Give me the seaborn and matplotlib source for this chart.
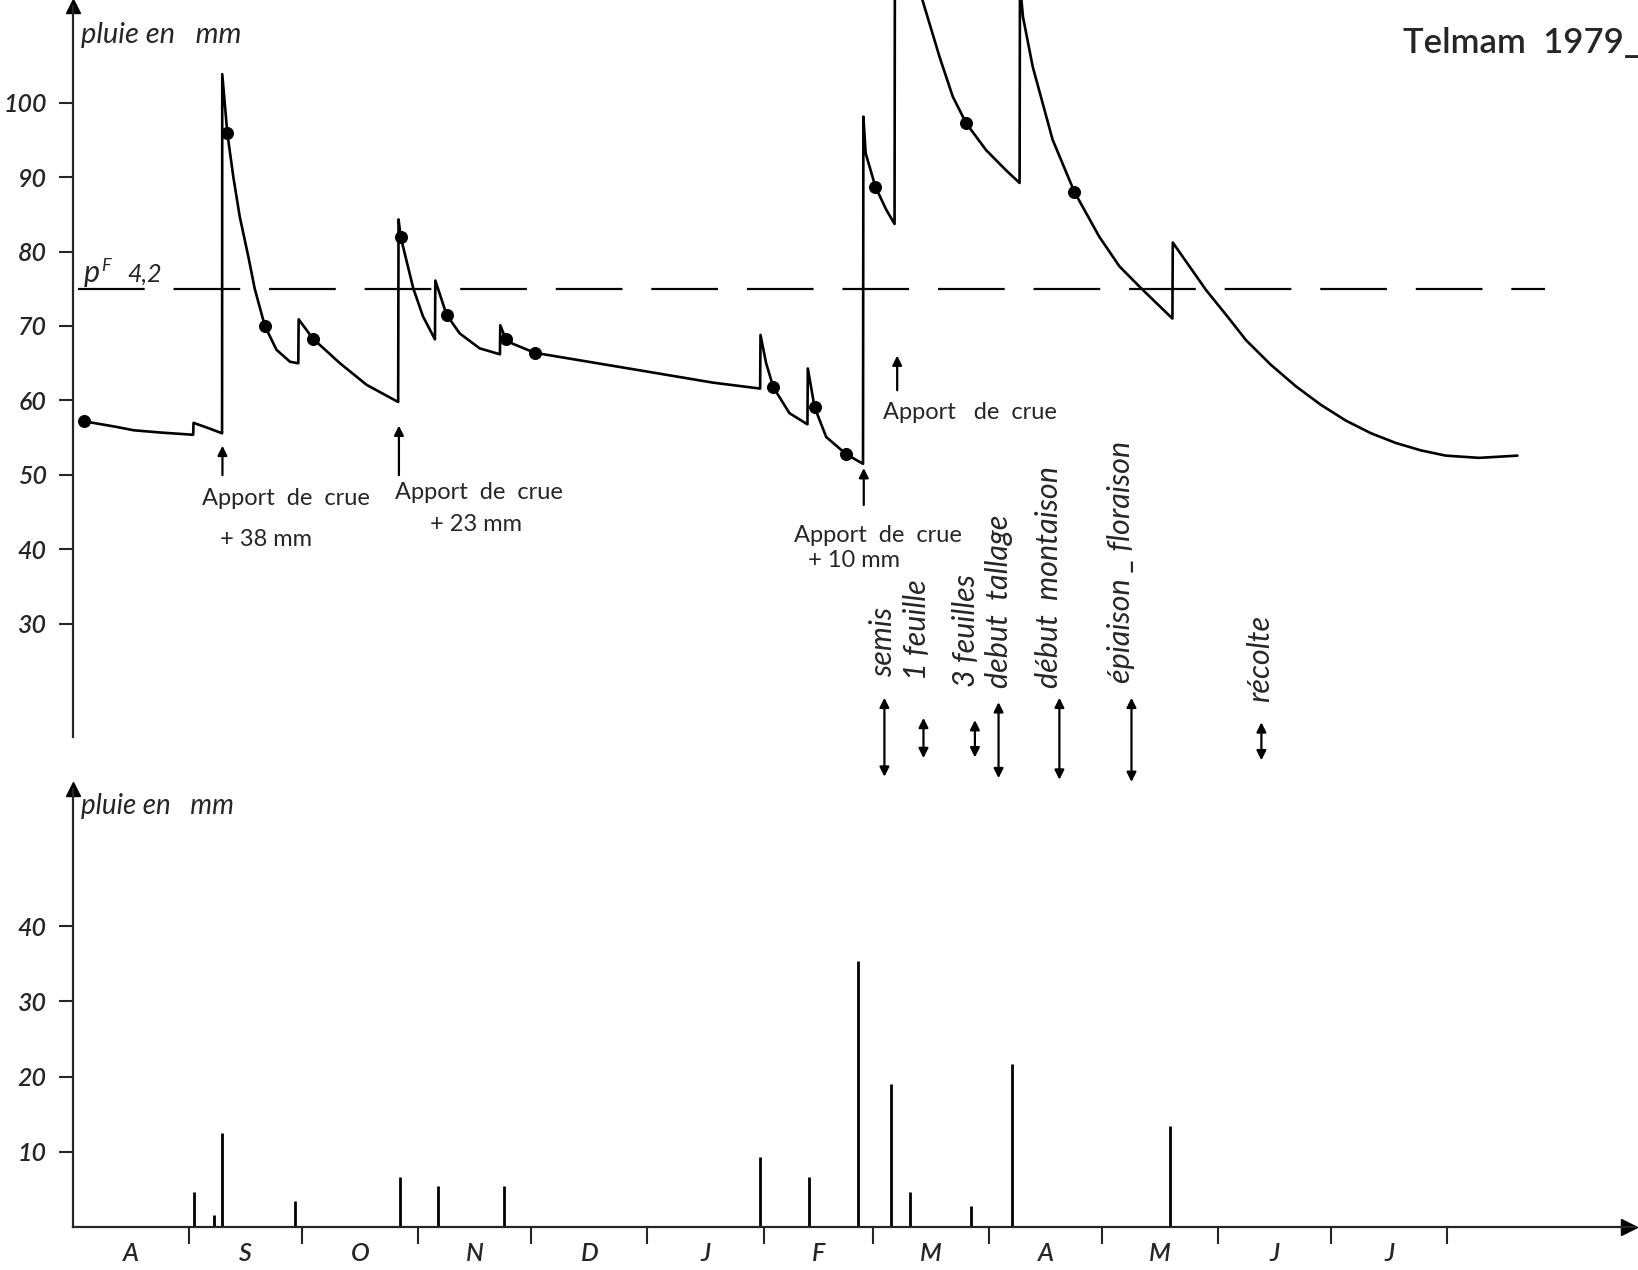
import numpy as np
import matplotlib
matplotlib.use("Agg")
import matplotlib.pyplot as plt
import seaborn as sns

# days counted from 1 August 1979
curve_days = [3.0, 11.1, 16.2, 23.3, 32.0, 32.1, 36.0, 39.7, 39.75,
              41.1, 42.7, 44.4, 46.7, 48.4, 51.1, 54.2, 57.8, 60.0,
              60.1, 63.9, 71.1, 78.2, 86.6,
              86.7, 87.3, 90.6, 93.2, 96.4,
              96.5, 99.5, 103.0, 108.3, 113.7,
              113.8, 115.3, 117.2, 123.0, 134.9, 152.7, 170.4, 183.0,
              183.1, 184.6, 186.5, 190.8, 195.6,
              195.7, 197.5, 200.6, 205.9, 210.4,
              210.5, 211.1, 213.7, 216.6, 218.8,
              218.9, 222.5, 226.2, 230.8, 234.3, 237.9, 243.2, 248.5, 252.1,
              252.2, 253.0, 255.6, 260.9, 266.7, 273.3, 278.7, 284.4, 292.8,
              292.9, 301.8, 307.1, 312.4, 319.0, 325.7, 332.4, 339.0, 345.7,
              352.3, 359.0, 365.6, 374.5, 384.7]
curve_vals = [57.2, 56.5, 56.0, 55.7, 55.4, 57.0, 56.3, 55.6, 103.8,
              95.9, 90.0, 84.7, 79.3, 75.0, 70.0, 66.8, 65.2, 65.0,
              70.9, 68.3, 65.0, 62.1, 59.8,
              84.3, 81.9, 75.1, 71.3, 68.2,
              76.1, 71.5, 69.0, 67.0, 66.2,
              70.1, 68.2, 67.6, 66.4, 65.4, 63.9, 62.4, 61.6,
              68.8, 65.0, 61.8, 58.3, 56.8,
              64.3, 59.1, 55.1, 52.8, 51.5,
              98.1, 93.2, 88.7, 85.6, 83.7,
              122.0, 117.5, 113.8, 106.1, 100.8, 97.2, 93.6, 90.9, 89.2,
              116.0, 111.5, 104.8, 95.0, 88.0, 82.0, 78.0, 75.1, 71.0,
              81.2, 74.8, 71.5, 68.1, 64.8, 61.9, 59.4, 57.3, 55.6,
              54.3, 53.3, 52.6, 52.3, 52.6]

dot_days = [3.0, 41.1, 51.1, 63.9, 87.3, 99.5, 115.3, 123.0, 186.5, 197.5, 205.9, 213.7, 237.9, 266.7]
dot_vals = [57.2, 95.9, 70.0, 68.3, 81.9, 71.5, 68.2, 66.4, 61.8, 59.1, 52.8, 88.7, 97.2, 88.0]

rain_days = [32.3, 37.5, 39.6, 59.2, 87.2, 97.2, 114.7, 183.0, 196.0, 209.0, 217.8, 222.9, 239.1, 250.1, 292.1]
rain_mm = [4.6, 1.6, 12.5, 3.5, 6.7, 5.4, 5.4, 9.3, 6.6, 35.4, 19.0, 4.7, 2.8, 21.7, 13.4]

pf_level = 75
pf_start, pf_end = 1.3, 392

month_bounds = [31, 61, 92, 122, 153, 184, 213, 244, 274, 305, 335, 366]
month_labels = ["A", "S", "O", "N", "D", "J", "F", "M", "A", "M", "J", "J"]

top_ticks = [30, 40, 50, 60, 70, 80, 90, 100]
rain_ticks = [10, 20, 30, 40]

# flood inputs: (day, arrow head, arrow tail, text lines)
floods = [
    (39.8, 54.3, 49.6, [("Apport  de  crue", 56.7, 46.8), ("+ 38 mm", 51.5, 41.4)]),
    (86.8, 57.0, 49.6, [("Apport  de  crue", 108.2, 47.7), ("+ 23 mm", 107.4, 43.4)]),
    (210.6, 51.3, 45.6, [("Apport  de  crue", 214.5, 41.9), ("+ 10 mm", 208.1, 38.5)]),
    (219.5, 66.4, 61.0, [("Apport   de  crue", 239.0, 58.4)]),
]

# crop stages: label, text day, text bottom, arrow day, arrow top, arrow bottom
stages = [
    ("semis", 215.6, 22.9, 216.1, 20.1, 9.5),
    ("1 feuille", 224.9, 22.5, 226.5, 17.4, 12.0),
    ("3 feuilles", 237.7, 21.5, 240.2, 17.1, 12.1),
    ("debut  tallage", 246.7, 21.4, 246.5, 19.5, 9.3),
    ("début  montaison", 260.0, 21.4, 262.7, 20.1, 9.1),
    ("épiaison _ floraison", 279.2, 22.1, 281.9, 20.1, 8.8),
    ("récolte", 316.2, 19.5, 316.5, 16.8, 11.7),
]

sns.set_style("white")
plt.rcParams["font.family"] = ["Lato", "DejaVu Sans"]

W, H = 1638, 1270
fig = plt.figure(figsize=(W / 100, H / 100), dpi=100)
left = 73 / W
width = (1635 - 73) / W
ax = fig.add_axes([left, 1 - 737 / H, width, 737 / H])
axr = fig.add_axes([left, 1 - 1227 / H, width, (1227 - 785) / H])

xmax = 416
top_lo, top_hi = 14.83, 113.76

# --- top panel: soil water reserve
sns.lineplot(x=curve_days, y=curve_vals, ax=ax, sort=False, estimator=None,
             color="black", lw=1.9)
sns.scatterplot(x=dot_days, y=dot_vals, ax=ax, color="black", s=75,
                edgecolor="black", zorder=5)
ax.hlines(pf_level, pf_start, pf_end, color="black", lw=1.6,
          linestyles=(0, (30, 13)))
ax.set_xlim(0, xmax)
ax.set_ylim(top_lo, top_hi)
for s in ["top", "right", "bottom"]:
    ax.spines[s].set_visible(False)
ax.spines["left"].set_linewidth(1.6)
ax.spines["left"].set_bounds(top_lo, 112.9)
ax.plot([0], [112.9], marker="^", ms=10, color="black", clip_on=False)
ax.set_xticks([])
ax.set_yticks(top_ticks)
ax.tick_params(axis="y", left=True, direction="out", length=10, width=1.5,
               labelsize=18, pad=9)
for lab in ax.get_yticklabels():
    lab.set_style("italic")
    lab.set_fontweight("semibold")
ax.set_xlabel("")
ax.set_ylabel("")
ax.text(2.0, 108.0, "pluie en   mm", fontsize=21, style="italic", va="baseline")

ax.text(2.9, 75.9, "p", fontsize=22, style="italic", va="baseline")
ax.text(7.6, 77.4, "F", fontsize=13, style="italic", va="baseline")
ax.text(14.4, 75.9, "4,2", fontsize=18, style="italic", va="baseline")

for day, head, tail, lines in floods:
    ax.annotate("", xy=(day, head), xytext=(day, tail),
                arrowprops=dict(arrowstyle="-|>", lw=1.6, color="black",
                                mutation_scale=14))
    for txt, tx, ty in lines:
        ax.text(tx, ty, txt, fontsize=17, ha="center", va="center")

for label, tx, ty, adx, atop, abot in stages:
    ax.text(tx, ty, label, fontsize=22, style="italic", rotation=90,
            ha="center", va="bottom")
    ax.annotate("", xy=(adx, atop), xytext=(adx, abot), annotation_clip=False,
                arrowprops=dict(arrowstyle="<|-|>", lw=1.6, color="black",
                                mutation_scale=14, shrinkA=0, shrinkB=0))

# --- bottom panel: rainfall
axr.vlines(rain_days, 0, rain_mm, color="black", lw=2)
axr.set_xlim(0, xmax)
axr.set_ylim(0, 58.8)
for s in ["top", "right"]:
    axr.spines[s].set_visible(False)
axr.spines["left"].set_linewidth(1.6)
axr.spines["bottom"].set_linewidth(1.6)
axr.spines["left"].set_bounds(0, 58.3)
axr.plot([0], [58.3], marker="^", ms=10, color="black", clip_on=False)
axr.plot([414.5], [0], marker=">", ms=11, color="black", clip_on=False)
axr.set_yticks(rain_ticks)
axr.tick_params(axis="y", left=True, direction="out", length=10, width=1.5,
                labelsize=18, pad=9)
for lab in axr.get_yticklabels():
    lab.set_style("italic")
    lab.set_fontweight("semibold")
axr.set_xticks(month_bounds)
axr.set_xticklabels([])
centers = [(a + b) / 2 for a, b in zip([0] + month_bounds[:-1], month_bounds)]
axr.set_xticks(centers, minor=True)
axr.set_xticklabels(month_labels, minor=True, fontsize=18, style="italic",
                    fontweight="semibold")
axr.tick_params(axis="x", which="major", bottom=True, direction="out",
                length=12, width=1.5)
axr.tick_params(axis="x", which="minor", bottom=True, length=0, pad=11)
axr.text(2.0, 55.0, "pluie en   mm", fontsize=20, style="italic", va="baseline")

fig.text(1640 / W, 1 - 53 / H, "Telmam  1979_", fontsize=25, ha="right",
         va="baseline", fontweight="semibold")

fig.savefig("out.png", dpi=100)
